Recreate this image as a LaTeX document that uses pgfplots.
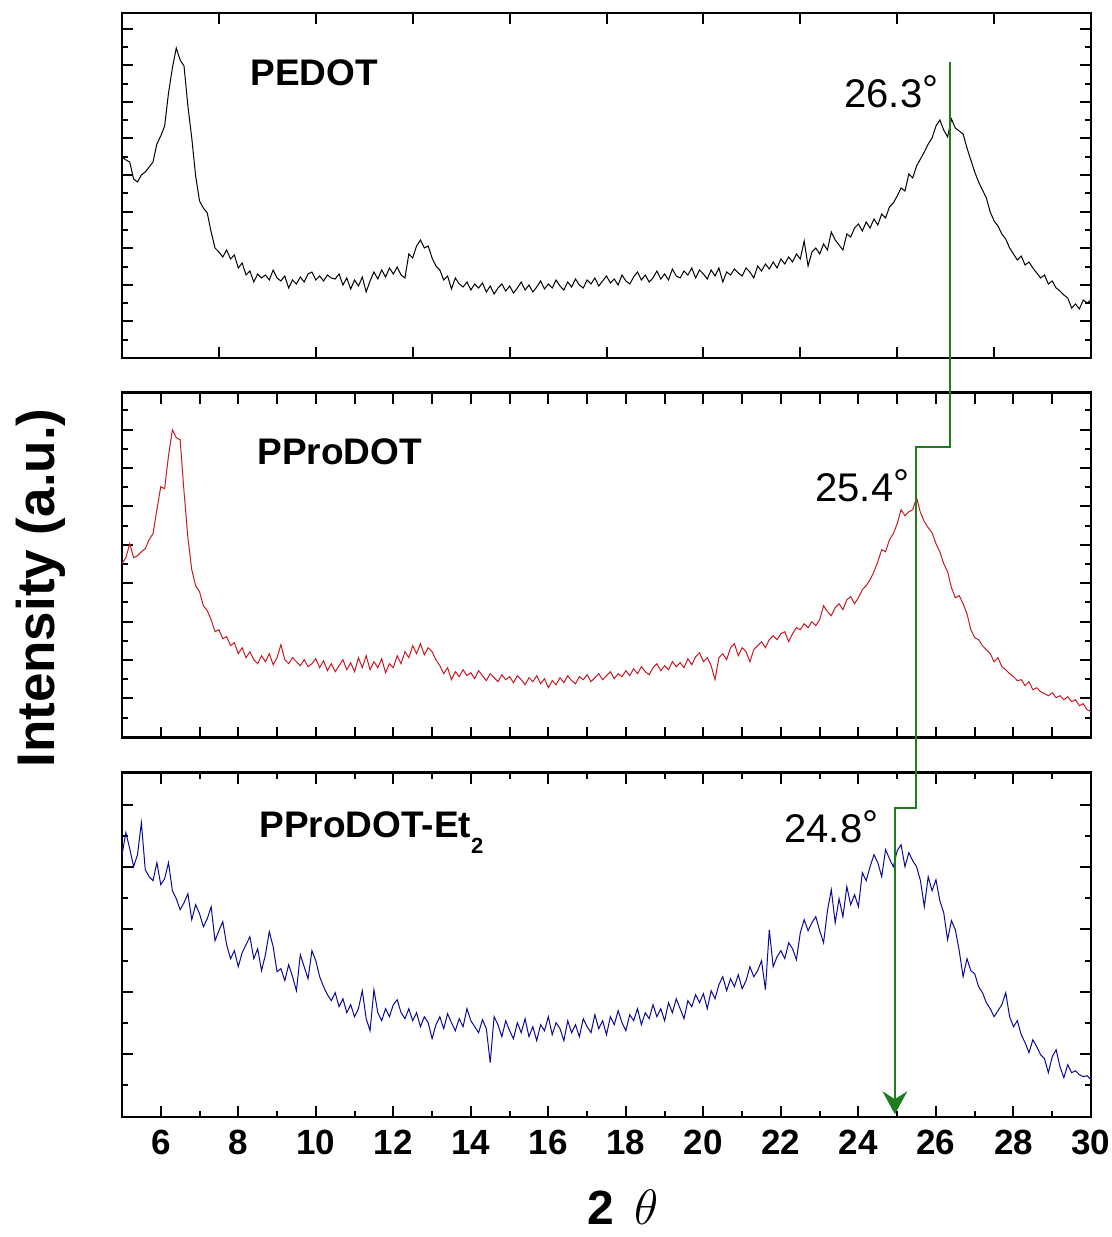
\documentclass[border=0pt]{standalone}
\usepackage{pgfplots}
\pgfplotsset{compat=1.18}
\usepackage{fontspec}
\setmainfont{Liberation Sans}
\usetikzlibrary{arrows.meta}
\definecolor{myred}{RGB}{200,25,35}
\definecolor{myblue}{RGB}{10,10,150}
\definecolor{mygreen}{RGB}{30,125,30}
\pgfplotsset{panel/.style={
  scale only axis, width=484.5pt, xmin=5, xmax=30, ymin=0,
  axis line style={line width=1.2pt}, tick style={line width=1pt, black},
  major tick length=5.5pt, minor tick length=3pt, tick align=inside,
  yticklabels={}, clip=false,
  /pgf/number format/assume math mode=true}}
\begin{document}
\begin{tikzpicture}
\path[use as bounding box] (0,0) rectangle (556pt,618.5pt);
% top panel
\begin{axis}[panel, at={(61pt,439.5pt)}, anchor=south west, height=172.5pt, ymax=345,
  xtick distance=2.5, xticklabels={},
  ytick={36.5,73.1,109.7,146.3,182.9,219.5,256.1,292.7,329.3},
  minor ytick={18.2,54.8,91.4,128,164.6,201.2,237.8,274.4,311}]
\addplot[black, line width=0.5pt] coordinates {
(5.0,201)(5.1,198)(5.2,196)(5.3,179)(5.4,176)(5.5,183)(5.6,186)(5.7,191)(5.8,196)(5.9,214)
(6.0,222)(6.1,232)(6.2,265)(6.3,290)(6.4,310)(6.5,298)(6.6,292)(6.7,252)(6.8,220)(6.9,182)
(7.0,157)(7.1,150)(7.2,145)(7.3,126)(7.4,110)(7.5,106)(7.6,101)(7.7,108)(7.8,99)(7.9,103)
(8.0,90)(8.1,95)(8.2,83)(8.3,87)(8.4,76)(8.5,84)(8.6,80)(8.7,83)(8.8,78)(8.9,88)
(9.0,80)(9.1,77)(9.2,82)(9.3,70)(9.4,78)(9.5,74)(9.6,81)(9.7,76)(9.8,84)(9.9,86)
(10.0,78)(10.1,82)(10.2,77)(10.3,83)(10.4,80)(10.5,79)(10.6,84)(10.7,73)(10.8,80)(10.9,69)
(11.0,78)(11.1,72)(11.2,81)(11.3,66)(11.4,77)(11.5,86)(11.6,79)(11.7,88)(11.8,81)(11.9,90)
(12.0,84)(12.1,91)(12.2,83)(12.3,80)(12.4,104)(12.5,100)(12.6,112)(12.7,118)(12.8,110)(12.9,112)
(13.0,100)(13.1,92)(13.2,88)(13.3,78)(13.4,82)(13.5,69)(13.6,80)(13.7,74)(13.8,71)(13.9,76)
(14.0,68)(14.1,74)(14.2,70)(14.3,75)(14.4,66)(14.5,72)(14.6,64)(14.7,70)(14.8,74)(14.9,67)
(15.0,72)(15.1,65)(15.2,70)(15.3,76)(15.4,68)(15.5,73)(15.6,66)(15.7,71)(15.8,77)(15.9,69)
(16.0,74)(16.1,70)(16.2,78)(16.3,72)(16.4,68)(16.5,76)(16.6,71)(16.7,79)(16.8,73)(16.9,70)
(17.0,78)(17.1,74)(17.2,80)(17.3,72)(17.4,77)(17.5,82)(17.6,75)(17.7,79)(17.8,73)(17.9,83)
(18.0,77)(18.1,74)(18.2,81)(18.3,86)(18.4,78)(18.5,83)(18.6,76)(18.7,80)(18.8,87)(18.9,79)
(19.0,84)(19.1,78)(19.2,89)(19.3,82)(19.4,80)(19.5,87)(19.6,83)(19.7,90)(19.8,80)(19.9,88)
(20.0,84)(20.1,79)(20.2,88)(20.3,82)(20.4,90)(20.5,76)(20.6,86)(20.7,83)(20.8,89)(20.9,85)
(21.0,82)(21.1,90)(21.2,86)(21.3,80)(21.4,92)(21.5,87)(21.6,94)(21.7,89)(21.8,96)(21.9,90)
(22.0,99)(22.1,94)(22.2,101)(22.3,96)(22.4,104)(22.5,99)(22.6,117)(22.7,92)(22.8,106)(22.9,110)
(23.0,104)(23.1,114)(23.2,108)(23.3,126)(23.4,118)(23.5,113)(23.6,108)(23.7,124)(23.8,121)(23.9,130)
(24.0,134)(24.1,127)(24.2,136)(24.3,130)(24.4,139)(24.5,133)(24.6,144)(24.7,140)(24.8,151)(24.9,155)
(25.0,162)(25.1,170)(25.2,167)(25.3,184)(25.4,180)(25.5,192)(25.6,199)(25.7,206)(25.8,214)(25.9,220)
(26.0,232)(26.1,238)(26.2,228)(26.3,221)(26.4,239)(26.5,230)(26.6,227)(26.7,224)(26.8,210)(26.9,198)
(27.0,186)(27.1,176)(27.2,168)(27.3,160)(27.4,146)(27.5,137)(27.6,132)(27.7,124)(27.8,119)(27.9,110)
(28.0,104)(28.1,98)(28.2,102)(28.3,93)(28.4,96)(28.5,90)(28.6,85)(28.7,80)(28.8,83)(28.9,74)
(29.0,77)(29.1,70)(29.2,67)(29.3,63)(29.4,60)(29.5,50)(29.6,54)(29.7,49)(29.8,58)(29.9,55)(30.0,58)};
\coordinate (g0) at (axis cs:26.36,296);
\end{axis}
% middle panel
\begin{axis}[panel, at={(61pt,249.65pt)}, anchor=south west, height=172.5pt, ymax=345,
  xtick distance=1, xticklabels={},
  ytick={39.2,77.6,116,154.4,192.8,231.2,269.6,308},
  minor ytick={20,58.4,96.8,135.2,173.6,212,250.4,288.8,327.2}]
\addplot[myred, line width=0.5pt] coordinates {
(5.0,174)(5.1,180)(5.2,194)(5.3,180)(5.4,182)(5.5,186)(5.6,189)(5.7,198)(5.8,204)(5.9,228)
(6.0,251)(6.1,249)(6.2,282)(6.3,308)(6.4,300)(6.5,298)(6.6,246)(6.7,200)(6.8,168)(6.9,152)
(7.0,146)(7.1,132)(7.2,127)(7.3,118)(7.4,106)(7.5,108)(7.6,99)(7.7,101)(7.8,92)(7.9,95)
(8.0,84)(8.1,90)(8.2,80)(8.3,86)(8.4,78)(8.5,74)(8.6,82)(8.7,76)(8.8,84)(8.9,73)
(9.0,80)(9.1,93)(9.2,78)(9.3,74)(9.4,80)(9.5,76)(9.6,72)(9.7,78)(9.8,71)(9.9,74)
(10.0,79)(10.1,70)(10.2,77)(10.3,67)(10.4,74)(10.5,66)(10.6,72)(10.7,78)(10.8,68)(10.9,75)
(11.0,66)(11.1,80)(11.2,70)(11.3,82)(11.4,68)(11.5,76)(11.6,70)(11.7,79)(11.8,65)(11.9,74)
(12.0,70)(12.1,82)(12.2,74)(12.3,86)(12.4,80)(12.5,92)(12.6,84)(12.7,94)(12.8,83)(12.9,90)
(13.0,86)(13.1,78)(13.2,72)(13.3,64)(13.4,70)(13.5,58)(13.6,66)(13.7,61)(13.8,68)(13.9,62)
(14.0,65)(14.1,59)(14.2,67)(14.3,62)(14.4,57)(14.5,64)(14.6,60)(14.7,56)(14.8,63)(14.9,58)
(15.0,61)(15.1,55)(15.2,62)(15.3,58)(15.4,53)(15.5,60)(15.6,56)(15.7,62)(15.8,54)(15.9,59)
(16.0,50)(16.1,57)(16.2,53)(16.3,60)(16.4,55)(16.5,62)(16.6,57)(16.7,54)(16.8,61)(16.9,58)
(17.0,63)(17.1,56)(17.2,60)(17.3,64)(17.4,58)(17.5,62)(17.6,66)(17.7,59)(17.8,64)(17.9,61)
(18.0,67)(18.1,62)(18.2,69)(18.3,64)(18.4,71)(18.5,66)(18.6,63)(18.7,70)(18.8,74)(18.9,67)
(19.0,72)(19.1,68)(19.2,76)(19.3,71)(19.4,75)(19.5,70)(19.6,79)(19.7,73)(19.8,81)(19.9,85)
(20.0,76)(20.1,80)(20.2,72)(20.3,58)(20.4,80)(20.5,84)(20.6,78)(20.7,90)(20.8,94)(20.9,82)
(21.0,90)(21.1,86)(21.2,76)(21.3,88)(21.4,92)(21.5,96)(21.6,90)(21.7,98)(21.8,102)(21.9,98)
(22.0,104)(22.1,106)(22.2,96)(22.3,104)(22.4,110)(22.5,108)(22.6,114)(22.7,110)(22.8,116)(22.9,112)
(23.0,118)(23.1,132)(23.2,126)(23.3,122)(23.4,130)(23.5,134)(23.6,128)(23.7,138)(23.8,141)(23.9,134)
(24.0,140)(24.1,148)(24.2,152)(24.3,158)(24.4,166)(24.5,176)(24.6,188)(24.7,186)(24.8,198)(24.9,204)
(25.0,214)(25.1,228)(25.2,222)(25.3,226)(25.4,228)(25.5,240)(25.6,225)(25.7,216)(25.8,210)(25.9,205)
(26.0,194)(26.1,186)(26.2,174)(26.3,166)(26.4,150)(26.5,140)(26.6,142)(26.7,134)(26.8,124)(26.9,108)
(27.0,100)(27.1,98)(27.2,92)(27.3,88)(27.4,84)(27.5,76)(27.6,80)(27.7,71)(27.8,68)(27.9,64)
(28.0,61)(28.1,57)(28.2,58)(28.3,52)(28.4,56)(28.5,48)(28.6,50)(28.7,46)(28.8,44)(28.9,42)
(29.0,45)(29.1,40)(29.2,42)(29.3,38)(29.4,41)(29.5,36)(29.6,38)(29.7,32)(29.8,34)(29.9,28)(30.0,26)};
\coordinate (g1) at (axis cs:26.36,290.7);
\coordinate (g2) at (axis cs:25.48,290.7);
\end{axis}
% bottom panel
\begin{axis}[panel, at={(61pt,60.15pt)}, anchor=south west, height=172pt, ymax=344,
  xtick distance=2, minor x tick num=1,
  xticklabel style={font=\fontsize{17.5}{17.5}\selectfont\bfseries, inner sep=0pt, yshift=-6.5pt},
  ytick={62.4,124.8,187.2,249.6,312},
  minor ytick={31.2,93.6,156,218.4,280.8}]
\addplot[myblue, line width=0.5pt] coordinates {
(5.0,262)(5.1,284)(5.2,268)(5.3,250)(5.4,262)(5.5,294)(5.6,247)(5.7,240)(5.8,236)(5.9,254)
(6.0,232)(6.1,238)(6.2,254)(6.3,226)(6.4,218)(6.5,207)(6.6,214)(6.7,223)(6.8,197)(6.9,212)
(7.0,203)(7.1,190)(7.2,198)(7.3,210)(7.4,176)(7.5,186)(7.6,195)(7.7,172)(7.8,158)(7.9,166)
(8.0,150)(8.1,164)(8.2,172)(8.3,180)(8.4,158)(8.5,168)(8.6,146)(8.7,162)(8.8,185)(8.9,170)
(9.0,145)(9.1,148)(9.2,136)(9.3,152)(9.4,140)(9.5,126)(9.6,162)(9.7,150)(9.8,138)(9.9,166)
(10.0,156)(10.1,140)(10.2,130)(10.3,122)(10.4,116)(10.5,124)(10.6,110)(10.7,118)(10.8,104)(10.9,112)
(11.0,100)(11.1,108)(11.2,126)(11.3,98)(11.4,86)(11.5,127)(11.6,104)(11.7,96)(11.8,108)(11.9,100)
(12.0,112)(12.1,117)(12.2,104)(12.3,98)(12.4,108)(12.5,96)(12.6,104)(12.7,90)(12.8,100)(12.9,94)
(13.0,78)(13.1,92)(13.2,100)(13.3,88)(13.4,103)(13.5,94)(13.6,86)(13.7,98)(13.8,90)(13.9,108)
(14.0,96)(14.1,90)(14.2,84)(14.3,97)(14.4,88)(14.5,54)(14.6,100)(14.7,92)(14.8,80)(14.9,96)
(15.0,86)(15.1,78)(15.2,94)(15.3,84)(15.4,98)(15.5,80)(15.6,90)(15.7,76)(15.8,92)(15.9,86)
(16.0,100)(16.1,82)(16.2,94)(16.3,88)(16.4,76)(16.5,96)(16.6,84)(16.7,92)(16.8,80)(16.9,98)
(17.0,90)(17.1,84)(17.2,102)(17.3,88)(17.4,96)(17.5,82)(17.6,100)(17.7,92)(17.8,106)(17.9,94)
(18.0,86)(18.1,102)(18.2,96)(18.3,108)(18.4,92)(18.5,104)(18.6,98)(18.7,112)(18.8,100)(18.9,108)
(19.0,96)(19.1,114)(19.2,104)(19.3,118)(19.4,108)(19.5,98)(19.6,116)(19.7,110)(19.8,122)(19.9,114)
(20.0,123)(20.1,108)(20.2,126)(20.3,118)(20.4,132)(20.5,140)(20.6,126)(20.7,138)(20.8,130)(20.9,142)
(21.0,128)(21.1,136)(21.2,150)(21.3,140)(21.4,146)(21.5,156)(21.6,127)(21.7,187)(21.8,150)(21.9,160)
(22.0,166)(22.1,158)(22.2,174)(22.3,168)(22.4,157)(22.5,184)(22.6,197)(22.7,186)(22.8,194)(22.9,200)
(23.0,186)(23.1,174)(23.2,206)(23.3,227)(23.4,194)(23.5,218)(23.6,200)(23.7,230)(23.8,212)(23.9,222)
(24.0,210)(24.1,244)(24.2,236)(24.3,250)(24.4,262)(24.5,254)(24.6,240)(24.7,267)(24.8,258)(24.9,250)
(25.0,266)(25.1,272)(25.2,250)(25.3,264)(25.4,256)(25.5,250)(25.6,236)(25.7,210)(25.8,240)(25.9,226)
(26.0,237)(26.1,216)(26.2,204)(26.3,177)(26.4,196)(26.5,187)(26.6,166)(26.7,140)(26.8,158)(26.9,146)
(27.0,143)(27.1,130)(27.2,124)(27.3,114)(27.4,108)(27.5,100)(27.6,106)(27.7,112)(27.8,124)(27.9,100)
(28.0,90)(28.1,96)(28.2,82)(28.3,74)(28.4,64)(28.5,77)(28.6,70)(28.7,62)(28.8,58)(28.9,44)
(29.0,60)(29.1,67)(29.2,50)(29.3,39)(29.4,52)(29.5,44)(29.6,46)(29.7,42)(29.8,40)(29.9,41)(30.0,37)};
\coordinate (g3) at (axis cs:25.48,308.7);
\coordinate (g4) at (axis cs:24.94,308.7);
\coordinate (g5) at (axis cs:24.94,2.5);
\end{axis}
% green guide arrow
\draw[mygreen, line width=0.7pt, -{Stealth[length=11.5pt,width=12.5pt,inset=4pt]}]
  (g0) -- (g1) -- (g2) -- (g3) -- (g4) -- (g5);
% labels
\node[anchor=base west, inner sep=0pt, font=\fontsize{18.5}{18.5}\selectfont\bfseries] at (125pt,575.5pt) {PEDOT};
\node[anchor=base west, inner sep=0pt, font=\fontsize{18.5}{18.5}\selectfont\bfseries] at (128.5pt,386pt) {PProDOT};
\node[anchor=base west, inner sep=0pt, font=\fontsize{18.5}{18.5}\selectfont\bfseries] at (129.5pt,199.5pt) {PProDOT-Et\raisebox{-8pt}{\fontsize{11}{11}\selectfont 2}};
\node[anchor=base west, inner sep=0pt, font=\fontsize{20}{20}\selectfont] at (422pt,564.5pt) {26.3\raisebox{2pt}{°}};
\node[anchor=base west, inner sep=0pt, font=\fontsize{20}{20}\selectfont] at (407.5pt,367.5pt) {25.4\raisebox{2pt}{°}};
\node[anchor=base west, inner sep=0pt, font=\fontsize{20}{20}\selectfont] at (392pt,197pt) {24.8\raisebox{2pt}{°}};
\node[rotate=90, anchor=base, inner sep=0pt, font=\fontsize{26.5}{26.5}\selectfont\bfseries] at (27.5pt,324.5pt) {Intensity (a.u.)};
\node[anchor=base, inner sep=0pt, font=\fontsize{24}{24}\selectfont\bfseries] at (311.5pt,6pt) {2\hspace{10pt}$\theta$};
\end{tikzpicture}
\end{document}
